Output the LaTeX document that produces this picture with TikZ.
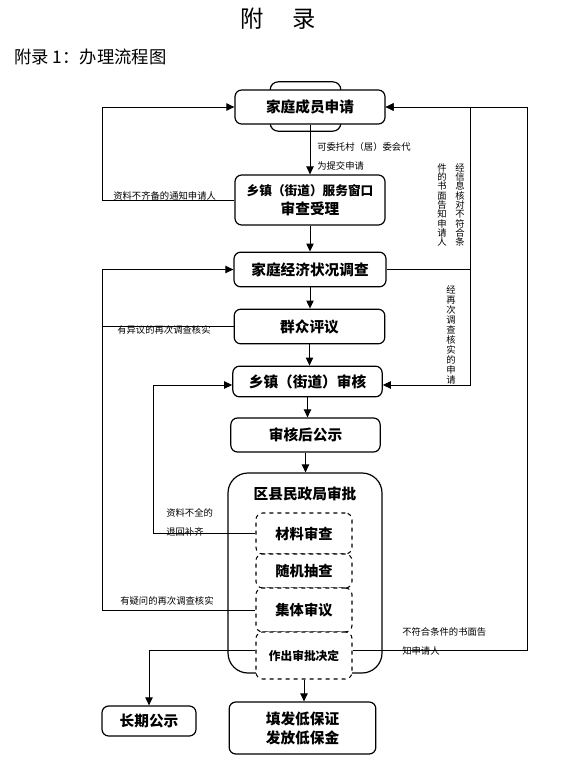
\documentclass[tikz,border=0pt]{standalone}
\usepackage{fontspec}
\newfontfamily\cjk{Noto Sans CJK SC}
\XeTeXlinebreaklocale "zh"
\XeTeXlinebreakskip=0pt plus 1pt
\usetikzlibrary{arrows.meta}

\tikzset{
  box/.style={draw, fill=white, rounded corners=5pt, line width=0.9pt, align=center, inner sep=0pt,
    font=\cjk\bfseries\fontsize{11}{14.25}\selectfont},
  dbox/.style={draw, dashed, fill=white, rounded corners=5pt, line width=0.8pt, inner sep=0pt,
    minimum width=72pt, font=\cjk\bfseries\fontsize{10.7}{12}\selectfont},
  arr/.style={-{Triangle[length=6pt,width=5.5pt]}, line width=0.75pt},
  note/.style={font=\cjk\fontsize{7}{14.25}\selectfont, align=left, inner sep=0pt},
  vnote/.style={font=\cjk\fontsize{7}{7}\selectfont, text width=8pt, align=center, inner sep=0pt},
}

\begin{document}
\begin{tikzpicture}[x=0.75pt,y=-0.75pt]
  \useasboundingbox (0,0) rectangle (582,767);
  \node (title) at (278,19) {\cjk\fontsize{17.5}{19}\selectfont 附\hspace{21pt}录};
  \node[anchor=west, inner sep=0pt] (subtitle) at (14,57) {\cjk\fontsize{13}{15}\selectfont 附录 1：办理流程图};

  % boxes, top to bottom
  \node[draw, rounded corners=6pt, line width=0.9pt, minimum width=53pt, minimum height=37pt] (tab) at (305.5,106.5) {};
  \node[box, minimum width=112.5pt, minimum height=25.5pt] (apply) at (310,107) {家庭成员申请};
  \node[box, minimum width=112.5pt, minimum height=37.5pt] (window) at (310,200)
    {{\fontsize{9.5}{13.5}\selectfont 乡镇（街道）服务窗口}\\审查受理};
  \node[box, minimum width=114pt, minimum height=26pt] (survey) at (310,269.5) {家庭经济状况调查};
  \node[box, minimum width=113pt, minimum height=26pt] (review) at (309.5,326.5) {群众评议};
  \node[box, minimum width=112pt, minimum height=23pt] (town) at (307.5,381.5) {乡镇（街道）审核};
  \node[box, minimum width=112pt, minimum height=25.5pt] (notice) at (305.5,435) {审核后公示};
  \node[draw, rounded corners=15pt, line width=0.9pt, minimum width=115.5pt, minimum height=150pt] (county) at (305,573) {};
  \node[box, draw=none, fill=none] (countyname) at (305,494) {区县民政局审批};
  \node[dbox, minimum height=30.75pt] (check) at (304,533.5) {材料审查};
  \node[dbox, minimum height=25.5pt] (spot) at (304,571) {随机抽查};
  \node[dbox, minimum height=33pt] (meet) at (304,610) {集体审议};
  \node[dbox, minimum height=35.25pt, font=\cjk\bfseries\fontsize{8.8}{10}\selectfont] (decide) at (304,655.5) {作出审批决定};
  \node[box, minimum width=70.5pt, minimum height=22.5pt] (longterm) at (149,721) {长期公示};
  \node[box, minimum width=110pt, minimum height=39pt] (issue) at (302.5,728) {填发低保证\\发放低保金};

  \foreach \a/\b in {apply/window, window/survey, survey/review, review/town, town/notice, notice/county}
    \draw[arr] (\a) -- (\a |- \b.north);
  \draw[arr] (decide) -- (decide |- issue.north);

  \coordinate (jl) at (102,269.5);
  \coordinate (jt) at (102,107);
  \coordinate (jm) at (153,385);
  \coordinate (jr) at (470,269.5);
  \coordinate (rim) at (527,107);
  \draw[arr] (window.west) -| (jt) -- (apply.west);
  \draw[arr] (meet.west) -| (jl) -- (survey.west);
  \draw (review.west) -- (review.west -| jl);
  \draw[arr] (check.west) -| (jm) -- (jm -| town.west);
  \draw[arr] (survey.east) -- (jr) |- (apply.east);
  \draw[arr] (jr) |- (jm -| town.east);
  \draw[arr] ([yshift=4pt]decide.east) -| (rim) -- (apply.east);
  \draw[arr] ([yshift=4pt]decide.west) -| (longterm.north);

  \node[note, anchor=west] (delegate) at (317,156) {可委托村（居）委会代\\为提交申请};
  \node[note, anchor=west] (incomplete) at (113,196) {资料不齐备的通知申请人};
  \node[note, anchor=west] (objection) at (117,330) {有异议的再次调查核实};
  \node[note, anchor=west] (doubt) at (120,601) {有疑问的再次调查核实};
  \node[note, anchor=west] (returned) at (166,522) {资料不全的\\退回补齐};
  \node[note, anchor=west] (refused) at (402,641) {不符合条件的书面告\\知申请人};
  \node[vnote] (checkinfo) at (460,205) {经信息核对不符合条};
  \node[vnote] (checkinfob) at (442,205) {件的书面告知申请人};
  \node[vnote, font=\cjk\fontsize{7}{7.5}\selectfont] (recheck) at (451,335) {经再次调查核实的申请};
\end{tikzpicture}
\end{document}
